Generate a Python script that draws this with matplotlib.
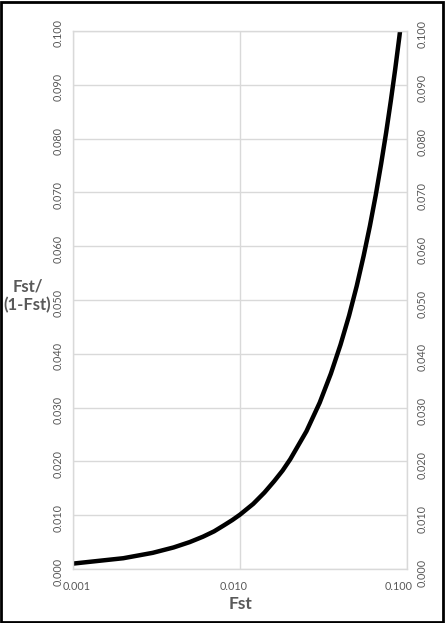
import matplotlib
matplotlib.use('Agg')
import matplotlib.pyplot as plt
import matplotlib.transforms as mtransforms
from matplotlib.patches import Rectangle

# values
fst = [0.001, 0.002, 0.003, 0.004, 0.005, 0.006, 0.007, 0.008, 0.009, 0.010,
       0.012, 0.014, 0.016, 0.018, 0.020, 0.025, 0.030, 0.035, 0.040, 0.045,
       0.050, 0.055, 0.060, 0.065, 0.070, 0.075, 0.080, 0.085, 0.090, 0.095, 0.100]
ratio = [0.0010, 0.0020, 0.0030, 0.0040, 0.0050, 0.0060, 0.0070, 0.0081, 0.0091, 0.0101,
         0.0121, 0.0142, 0.0163, 0.0183, 0.0204, 0.0256, 0.0309, 0.0363, 0.0417, 0.0471,
         0.0526, 0.0582, 0.0638, 0.0695, 0.0753, 0.0811, 0.0870, 0.0929, 0.0989, 0.1050, 0.1111]
x_ticks = [0.001, 0.010, 0.100]
y_ticks = [0.000, 0.010, 0.020, 0.030, 0.040, 0.050, 0.060, 0.070, 0.080, 0.090, 0.100]

plt.rcParams['font.family'] = ['Lato', 'DejaVu Sans']
grey = '#595959'
grid = '#d9d9d9'

fig = plt.figure(figsize=(4.45, 6.23), dpi=100)
ax = fig.add_axes([0.164, 0.0867, 0.7506, 0.8636])

ax.plot(fst, ratio, color='black', lw=3.2, solid_joinstyle='round')

ax.set_xscale('log')
ax.set_xlim(0.001, 0.1)
ax.set_ylim(0, 0.1)
ax.set_xticks(x_ticks)
ax.set_xticklabels(['%.3f' % v for v in x_ticks])
ax.minorticks_off()
ax.set_yticks(y_ticks)
ax.set_yticklabels(['%.3f' % v for v in y_ticks])

ax.grid(True, color=grid, lw=1)
ax.set_axisbelow(True)
for s in ax.spines.values():
    s.set_color(grid)
    s.set_linewidth(1)

ax.tick_params(axis='both', length=0, labelsize=7.8, labelcolor=grey)
ax.tick_params(axis='x', pad=9)
ax.tick_params(axis='y', pad=7, labelright=True)

# rotated tick labels, nudged up a little like the original
up = mtransforms.ScaledTranslation(0, 7 / 100, fig.dpi_scale_trans)
up_r = mtransforms.ScaledTranslation(0, 6 / 100, fig.dpi_scale_trans)
for t in ax.yaxis.get_major_ticks():
    t.label1.set_rotation(90)
    t.label2.set_rotation(90)
    t.label1.set_transform(t.label1.get_transform() + up)
    t.label2.set_transform(t.label2.get_transform() + up_r)
# x labels sit a bit off their ticks in the original
for t, dx in zip(ax.xaxis.get_major_ticks(), [4, -6, -8]):
    shift = mtransforms.ScaledTranslation(dx / 100, 0, fig.dpi_scale_trans)
    t.label1.set_transform(t.label1.get_transform() + shift)

fig.text(0.062, 0.525, 'Fst/\n(1-Fst)', ha='center', va='center', ma='center',
         fontsize=12, fontweight='bold', color=grey, linespacing=1.15)
fig.text(0.541, 0.031, 'Fst', ha='center', va='center',
         fontsize=12.5, fontweight='bold', color=grey)

fig.patches.append(Rectangle((0.003, 0.002), 0.992, 0.995, transform=fig.transFigure,
                             fill=False, edgecolor='black', lw=2))

fig.savefig('out.png', dpi=100)
